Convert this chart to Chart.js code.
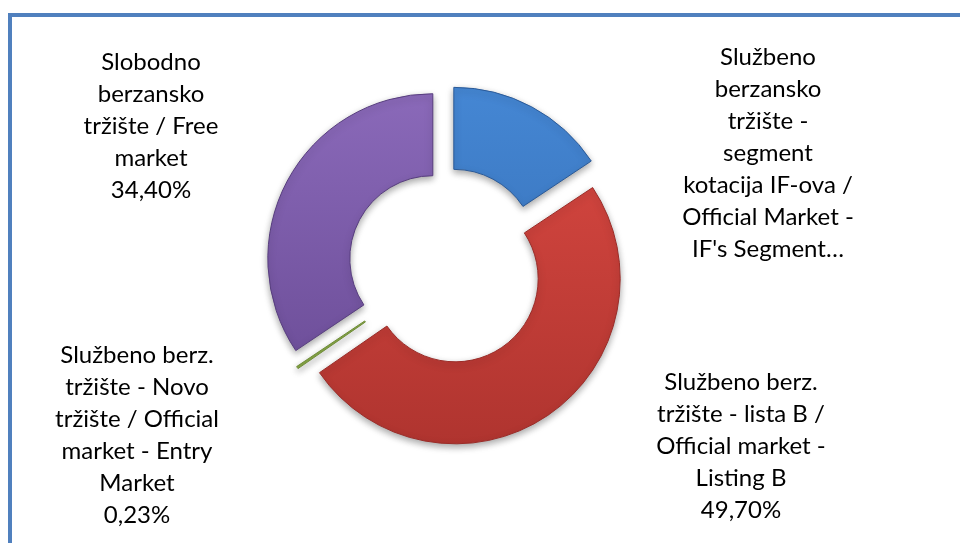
<!DOCTYPE html>
<html>
<head>
<meta charset="utf-8">
<script src="https://cdn.jsdelivr.net/npm/chart.js@4.4.1/dist/chart.umd.min.js"></script>
<style>
  html, body { margin: 0; padding: 0; background: #fff; overflow: hidden; }
  #okvir {
    position: absolute; left: 8px; top: 13px; width: 1000px; height: 600px;
    border-left: 4px solid #5080be; border-top: 4px solid #5080be;
  }
  #graf { position: absolute; left: 0; top: 0; }
</style>
</head>
<body>
<div id="okvir"></div>
<canvas id="graf" width="960" height="543"></canvas>
<script>
const kategorije = [
  "Službeno berzansko tržište - segment kotacija IF-ova / Official Market - IF's Segment",
  "Službeno berz. tržište - lista B / Official market - Listing B",
  "Službeno berz. tržište - Novo tržište / Official market - Entry Market",
  "Slobodno berzansko tržište / Free market",
];
const udjeli = [15.67, 49.7, 0.23, 34.4];
const oznakeRedovi = [
  ["Službeno", "berzansko", "tržište -", "segment", "kotacija IF-ova /", "Official Market -", "IF's Segment…"],
  ["Službeno berz.", "tržište - lista B /", "Official market -", "Listing B"],
  ["Službeno berz.", "tržište - Novo", "tržište / Official", "market - Entry", "Market"],
  ["Slobodno", "berzansko", "tržište / Free", "market"],
];
const prikaziPostotak = [false, true, true, true];

const boje = [
  ["#4587d4", "#2f64a8", "#2a5a98"],
  ["#dc4a43", "#ad332e", "#9a2c28"],
  ["#9abb55", "#7f9e40", "#6f8c38"],
  ["#8b6aba", "#63458e", "#573d7e"],
];

// razmak izvucenih segmenata
const explode = {
  id: "explode",
  afterUpdate(chart) {
    const d = chart.options.plugins.explode.distance;
    chart.getDatasetMeta(0).data.forEach((arc) => {
      const mid = (arc.startAngle + arc.endAngle) / 2;
      arc.x += Math.cos(mid) * d;
      arc.y += Math.sin(mid) * d;
    });
  },
};

const sjena = {
  id: "sjena",
  beforeDatasetsDraw(chart) {
    const ctx = chart.ctx;
    ctx.save();
    ctx.shadowColor = "rgba(0,0,0,0.35)";
    ctx.shadowBlur = 7;
    ctx.shadowOffsetY = 3;
  },
  afterDatasetsDraw(chart) {
    chart.ctx.restore();
  },
};

const oznake = {
  id: "oznake",
  afterDraw(chart, args, opts) {
    const ctx = chart.ctx;
    ctx.save();
    ctx.font = opts.font;
    ctx.fillStyle = "#000";
    ctx.textAlign = "center";
    ctx.textBaseline = "middle";
    oznakeRedovi.forEach((redovi, i) => {
      const lines = redovi.slice();
      if (prikaziPostotak[i]) {
        lines.push(udjeli[i].toFixed(2).replace(".", ",") + "%");
      }
      const [x, y] = opts.sidra[i];
      lines.forEach((t, j) => ctx.fillText(t, x, y + j * opts.lineHeight));
    });
    ctx.restore();
  },
};

function gradijent(context) {
  const c = boje[context.dataIndex];
  const g = context.chart.ctx.createLinearGradient(0, 85, 0, 465);
  g.addColorStop(0, c[0]);
  g.addColorStop(1, c[1]);
  return g;
}

new Chart(document.getElementById("graf"), {
  type: "doughnut",
  data: {
    labels: kategorije,
    datasets: [
      {
        data: udjeli,
        backgroundColor: gradijent,
        borderColor: (context) => boje[context.dataIndex][2],
        borderWidth: 1,
      },
    ],
  },
  options: {
    responsive: false,
    animation: false,
    events: [],
    radius: 165,
    cutout: "50.3%",
    layout: { padding: { left: 0, right: 67, top: 0, bottom: 11 } },
    plugins: {
      legend: { display: false },
      tooltip: { enabled: false },
      explode: { distance: 15.5 },
      oznake: {
        font: "24px Lato",
        lineHeight: 32,
        sidra: [[768, 57], [741, 382], [137, 355], [151, 62]],
      },
    },
  },
  plugins: [explode, sjena, oznake],
});
</script>
</body>
</html>
